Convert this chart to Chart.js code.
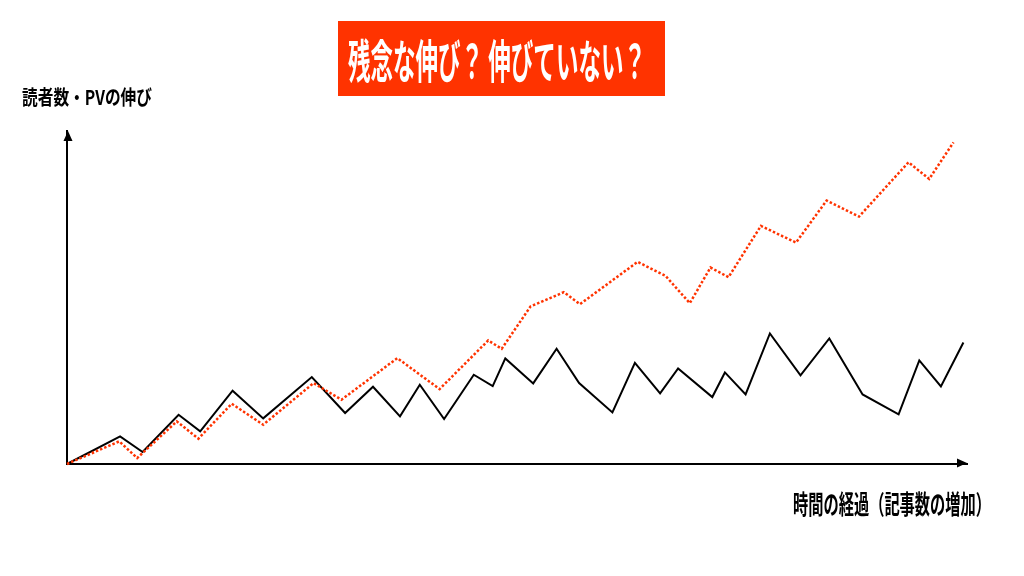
<!DOCTYPE html>
<html>
<head>
<meta charset="utf-8">
<script src="https://cdn.jsdelivr.net/npm/chart.js@4"></script>
<style>
  html, body { margin: 0; padding: 0; background: #fff; }
  canvas { display: block; }
</style>
</head>
<body>
<canvas id="myChart" width="1024" height="576"></canvas>
<script>
const titleText = '残念な伸び？ 伸びていない？';
const yLabel = '読者数・PVの伸び';
const xLabel = '時間の経過（記事数の増加）';

// 横軸：時間の経過（0〜100）、縦軸：伸び（0〜100）
const flatX = [0, 5.9, 8.4, 12.4, 14.8, 18.4, 21.8, 27.2, 30.9, 34.0, 37.0, 39.2, 41.9, 45.2, 47.3, 48.7, 51.8, 54.4, 56.9, 60.6, 63.1, 65.9, 67.9, 71.7, 73.1, 75.4, 78.1, 81.5, 84.7, 88.4, 92.4, 94.7, 97.1, 99.6];
const flatY = [0, 8.3, 3.6, 14.8, 9.8, 22.0, 13.7, 26.1, 15.3, 23.2, 14.3, 23.8, 13.5, 26.8, 23.4, 31.7, 24.2, 34.6, 24.3, 15.5, 30.4, 21.2, 28.7, 20.1, 27.5, 20.9, 39.2, 26.6, 37.7, 20.9, 14.9, 31.1, 23.3, 36.5];

const growX = [0, 5.8, 7.8, 12.2, 14.6, 18.3, 21.8, 27.4, 30.5, 36.7, 41.4, 46.8, 48.3, 51.5, 55.2, 57.0, 63.4, 66.5, 69.2, 71.5, 73.5, 77.1, 81.0, 84.4, 88.0, 93.5, 95.8, 98.5];
const growY = [0, 6.8, 1.8, 12.8, 7.6, 18.1, 11.8, 24.3, 19.3, 31.8, 22.5, 37.1, 34.6, 47.3, 51.6, 48.0, 60.7, 56.5, 48.3, 59.0, 56.1, 71.5, 66.5, 79.1, 74.3, 90.6, 85.6, 96.6];

const toPoints = (xs, ys) => xs.map((x, i) => ({x: x, y: ys[i]}));

const decor = {
  id: 'decor',
  afterDraw(chart) {
    const ctx = chart.ctx;
    const a = chart.chartArea;
    ctx.save();
    // 矢印
    ctx.fillStyle = '#000';
    ctx.beginPath();
    ctx.moveTo(a.left + 1, a.top);
    ctx.lineTo(a.left + 1 - 4.5, a.top + 10);
    ctx.lineTo(a.left + 1 + 4.5, a.top + 10);
    ctx.closePath();
    ctx.fill();
    ctx.beginPath();
    ctx.moveTo(a.right, a.bottom - 1);
    ctx.lineTo(a.right - 10, a.bottom - 1 - 4.5);
    ctx.lineTo(a.right - 10, a.bottom - 1 + 4.5);
    ctx.closePath();
    ctx.fill();

    // タイトル
    ctx.fillStyle = '#ff3300';
    ctx.fillRect(338, 21, 327, 75);
    ctx.fillStyle = '#fff';
    ctx.textBaseline = 'middle';
    ctx.textAlign = 'left';
    ctx.font = 'bold 46px "Noto Sans CJK JP"';
    ctx.fillText(titleText, 348, 61, 298);

    // 軸ラベル
    ctx.fillStyle = '#000';
    ctx.font = 'bold 20px "Noto Sans CJK JP"';
    ctx.fillText(yLabel, 22, 97, 130);
    ctx.font = 'bold 26px "Noto Sans CJK JP"';
    ctx.fillText(xLabel, 793, 504, 198);
    ctx.restore();
  }
};

new Chart(document.getElementById('myChart').getContext('2d'), {
  type: 'line',
  data: {
    datasets: [{
      label: 'grow',
      data: toPoints(growX, growY),
      borderColor: '#ff3300',
      borderWidth: 2.5,
      borderDash: [2.5, 2],
      pointRadius: 0,
      tension: 0,
      clip: false
    }, {
      label: 'flat',
      data: toPoints(flatX, flatY),
      borderColor: '#000',
      borderWidth: 2,
      pointRadius: 0,
      tension: 0,
      clip: false
    }]
  },
  options: {
    responsive: false,
    animation: false,
    devicePixelRatio: 1,
    layout: { padding: { left: 67, top: 131, right: 57, bottom: 112 } },
    plugins: {
      legend: { display: false },
      tooltip: { enabled: false }
    },
    scales: {
      x: {
        type: 'linear', min: 0, max: 100,
        grid: { display: false, drawTicks: false, tickLength: 0 },
        ticks: { display: false },
        border: { display: true, color: '#000', width: 2 }
      },
      y: {
        type: 'linear', min: 0, max: 100,
        grid: { display: false, drawTicks: false, tickLength: 0 },
        ticks: { display: false },
        border: { display: true, color: '#000', width: 2 }
      }
    }
  },
  plugins: [decor]
});
</script>
</body>
</html>
